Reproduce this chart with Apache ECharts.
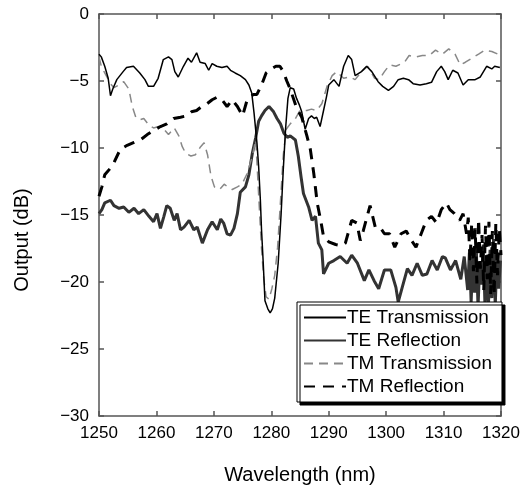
<!DOCTYPE html>
<html>
<head>
<meta charset="utf-8">
<script src="https://cdn.jsdelivr.net/npm/echarts@6/dist/echarts.min.js"></script>
<style>
html,body{margin:0;padding:0;background:#fff;}
#chart{width:523px;height:488px;}
</style>
</head>
<body>
<div id="chart"></div>
<script>
// ---- data (wavelength in nm, output in dB) ----
var xTicks = [1250, 1260, 1270, 1280, 1290, 1300, 1310, 1320];
var yTicks = [-30, -25, -20, -15, -10, -5, 0];
var seriesNames = ['TE Transmission', 'TE Reflection', 'TM Transmission', 'TM Reflection'];

var teTransWl = [1250, 1250.4, 1251.0, 1251.6, 1252.0, 1252.4, 1253.1, 1254.2, 1254.8, 1256.0, 1257.1, 1258.0, 1258.6, 1259.5, 1260.3, 1261.2, 1262.1, 1262.7, 1263.2, 1263.8, 1264.7, 1265.5, 1266.1, 1267.0, 1267.6, 1268.5, 1269.1, 1269.7, 1270.5, 1271.4, 1272.3, 1272.9, 1273.7, 1274.6, 1275.5, 1276.1, 1276.6, 1277.0, 1277.5, 1277.8, 1278.1, 1278.3, 1278.6, 1278.9, 1279.4, 1279.8, 1280.2, 1280.6, 1281.2, 1281.7, 1282.1, 1282.5, 1282.9, 1283.3, 1283.9, 1284.4, 1284.9, 1285.3, 1285.9, 1286.5, 1287.0, 1287.5, 1287.9, 1288.5, 1289.1, 1289.6, 1290.0, 1290.9, 1291.8, 1292.6, 1293.4, 1294.0, 1294.6, 1295.7, 1296.6, 1297.5, 1298.6, 1299.4, 1300.4, 1301.3, 1302.1, 1303.0, 1303.9, 1304.7, 1305.9, 1307.0, 1307.9, 1308.8, 1309.6, 1310.2, 1310.8, 1311.6, 1312.5, 1313.4, 1314.3, 1315.5, 1316.4, 1317.5, 1318.4, 1318.9, 1319.8];
var teTransDb = [-3.0, -3.2, -3.9, -4.8, -6.1, -5.6, -4.9, -4.3, -4.0, -3.9, -4.4, -4.9, -5.4, -5.4, -4.8, -3.4, -3.2, -3.4, -4.3, -4.7, -3.9, -3.3, -3.6, -2.9, -3.6, -3.7, -4.2, -3.7, -3.9, -4.0, -3.9, -4.2, -4.4, -4.6, -4.9, -5.3, -5.9, -7.4, -9.6, -11.4, -13.9, -16.1, -18.6, -21.4, -22.0, -22.3, -22.0, -21.2, -18.6, -15.0, -11.5, -8.5, -6.3, -5.5, -5.6, -6.3, -6.8, -7.3, -8.6, -7.8, -7.6, -7.8, -7.7, -8.4, -7.2, -6.2, -5.3, -4.9, -5.4, -3.9, -3.1, -3.4, -4.6, -4.3, -3.9, -4.3, -5.05, -5.4, -5.7, -5.4, -4.9, -4.8, -4.9, -5.2, -5.3, -5.2, -5.1, -4.3, -3.9, -4.3, -4.9, -4.2, -4.4, -5.3, -4.9, -4.9, -4.7, -3.9, -4.1, -3.9, -4.0];

var teReflWl = [1250, 1250.5, 1251.0, 1252.0, 1252.6, 1253.5, 1254.3, 1255.2, 1256.1, 1256.9, 1257.8, 1258.7, 1259.5, 1260.1, 1260.7, 1261.3, 1261.8, 1262.4, 1263.1, 1263.6, 1264.2, 1264.8, 1265.7, 1266.5, 1267.1, 1268.0, 1268.9, 1269.7, 1270.6, 1271.2, 1271.7, 1272.3, 1272.9, 1273.5, 1274.1, 1274.6, 1275.5, 1276.1, 1276.7, 1277.3, 1277.8, 1278.3, 1278.9, 1279.6, 1280.4, 1281.0, 1281.6, 1282.2, 1282.8, 1283.3, 1284.2, 1284.7, 1285.2, 1285.6, 1286.5, 1287.1, 1287.7, 1288.2, 1288.8, 1289.1, 1290.0, 1290.9, 1292.0, 1293.2, 1294.0, 1295.0, 1296.2, 1297.0, 1297.9, 1298.7, 1299.7, 1300.8, 1301.7, 1302.1, 1302.8, 1303.7, 1304.5, 1305.4, 1306.3, 1307.1, 1308.0, 1308.9, 1309.8, 1310.3, 1311.2, 1312.1, 1313.0, 1313.6, 1314.2, 1314.5, 1314.8, 1315.1, 1315.4, 1315.7, 1316.0, 1316.3, 1316.6, 1316.9, 1317.2, 1317.5, 1317.8, 1318.1, 1318.4, 1318.7, 1319.0, 1319.3, 1319.6, 1319.9];
var teReflDb = [-14.9, -14.6, -14.1, -13.9, -14.3, -14.5, -14.4, -14.8, -14.5, -14.9, -14.6, -15.1, -15.5, -14.9, -16.0, -15.1, -14.3, -14.5, -15.4, -14.9, -16.1, -15.9, -15.4, -16.1, -15.9, -17.1, -16.1, -15.5, -16.1, -15.3, -15.6, -16.4, -16.5, -16.0, -14.9, -13.3, -12.9, -12.0, -10.4, -9.2, -8.0, -7.6, -7.2, -6.9, -7.3, -7.8, -8.2, -8.9, -9.2, -9.1, -9.4, -10.6, -12.2, -13.4, -14.4, -15.4, -15.1, -17.1, -17.6, -19.4, -18.6, -18.4, -18.1, -18.6, -18.0, -18.6, -19.9, -19.1, -19.9, -20.5, -19.1, -19.1, -20.4, -21.5, -20.4, -19.0, -19.5, -18.6, -19.5, -19.4, -18.4, -19.1, -18.1, -18.2, -19.1, -18.4, -19.8, -18.1, -20.6, -17.8, -21.5, -18.2, -20.8, -17.5, -21.9, -18.6, -20.2, -17.2, -21.6, -18.0, -22.0, -17.6, -21.2, -16.8, -21.8, -17.9, -20.5, -18.4];

var tmTransWl = [1250, 1250.4, 1251.0, 1252.0, 1252.6, 1253.5, 1254.3, 1255.2, 1255.8, 1256.4, 1257.0, 1257.8, 1258.7, 1259.5, 1260.4, 1261.3, 1262.1, 1263.1, 1263.9, 1264.5, 1265.1, 1266.0, 1266.8, 1267.7, 1268.3, 1268.9, 1269.5, 1270.1, 1271.0, 1271.8, 1272.4, 1273.2, 1274.1, 1274.9, 1275.8, 1276.7, 1277.3, 1277.8, 1278.3, 1278.7, 1279.1, 1279.6, 1280.1, 1280.6, 1281.1, 1281.6, 1282.1, 1282.6, 1283.3, 1284.2, 1285.0, 1286.2, 1287.0, 1287.9, 1288.8, 1289.7, 1290.6, 1291.4, 1292.6, 1293.7, 1294.6, 1295.7, 1296.8, 1298.0, 1298.8, 1299.7, 1300.6, 1301.7, 1303.2, 1304.0, 1305.2, 1306.3, 1307.5, 1308.6, 1309.8, 1310.9, 1312.0, 1312.9, 1313.8, 1314.9, 1316.1, 1317.2, 1318.4, 1319.5, 1320];
var tmTransDb = [-3.2, -3.9, -4.4, -5.2, -5.5, -5.3, -5.05, -5.6, -6.9, -7.7, -7.9, -7.8, -8.3, -8.5, -8.4, -8.6, -9.0, -8.5, -9.1, -9.9, -10.4, -10.6, -10.5, -9.9, -9.6, -10.5, -12.1, -12.9, -13.1, -12.7, -12.9, -13.1, -12.9, -12.7, -11.9, -10.6, -9.4, -13.5, -17.5, -19.8, -21.1, -21.3, -20.5, -19.5, -17.4, -14.0, -10.5, -8.6, -8.2, -7.8, -7.2, -7.2, -7.1, -7.2, -6.7, -5.4, -4.6, -4.3, -4.8, -4.7, -4.9, -4.3, -3.9, -4.8, -4.9, -4.3, -3.8, -3.9, -3.6, -3.1, -3.2, -3.1, -3.1, -2.7, -3.0, -2.6, -3.0, -3.8, -3.6, -3.3, -3.0, -2.7, -2.8, -3.0, -2.6];

var tmReflWl = [1250, 1250.5, 1251.0, 1252.0, 1252.6, 1253.7, 1254.9, 1256.0, 1257.2, 1258.4, 1259.5, 1260.7, 1261.8, 1263.0, 1264.2, 1265.3, 1266.1, 1267.0, 1267.9, 1268.8, 1269.7, 1270.6, 1271.4, 1272.3, 1273.2, 1274.1, 1275.0, 1275.8, 1276.9, 1277.5, 1278.3, 1279.1, 1280.0, 1280.8, 1281.5, 1282.1, 1282.7, 1283.3, 1284.4, 1285.3, 1286.2, 1286.8, 1287.4, 1288.0, 1288.6, 1289.1, 1290.0, 1291.2, 1292.3, 1292.9, 1294.0, 1294.9, 1295.5, 1296.0, 1297.2, 1298.1, 1298.9, 1299.7, 1300.6, 1301.5, 1302.6, 1303.5, 1304.4, 1305.2, 1306.1, 1307.0, 1307.9, 1308.8, 1309.6, 1310.5, 1311.1, 1311.9, 1312.8, 1313.4, 1314.0, 1314.3, 1314.6, 1314.9, 1315.2, 1315.5, 1315.8, 1316.1, 1316.4, 1316.7, 1317.0, 1317.3, 1317.6, 1317.9, 1318.2, 1318.5, 1318.8, 1319.1, 1319.4, 1319.7, 1320];
var tmReflDb = [-13.6, -12.9, -12.0, -11.5, -11.1, -10.1, -9.8, -9.6, -9.4, -9.0, -8.7, -8.4, -8.2, -7.8, -7.7, -7.6, -7.3, -7.2, -6.9, -6.7, -6.4, -6.2, -6.4, -6.9, -6.4, -6.9, -7.6, -6.4, -6.0, -6.0, -5.3, -4.4, -4.1, -3.9, -3.9, -4.3, -5.0, -5.6, -7.0, -7.7, -9.1, -10.1, -11.9, -14.1, -15.4, -16.6, -17.0, -17.2, -17.3, -17.1, -15.4, -15.6, -16.9, -16.2, -14.3, -15.9, -15.9, -16.4, -16.4, -17.4, -16.4, -16.2, -16.9, -17.4, -16.4, -15.4, -15.1, -15.6, -14.6, -14.1, -14.6, -14.9, -15.4, -14.9, -16.4, -15.2, -18.5, -15.6, -19.2, -16.0, -20.1, -15.3, -19.0, -16.5, -20.6, -15.8, -19.8, -15.5, -20.9, -16.2, -21.0, -15.6, -19.5, -16.0, -18.0];

function pairs(xs, ys) {
  var out = [];
  for (var i = 0; i < xs.length; i++) out.push([xs[i], ys[i]]);
  return out;
}

var chart = echarts.init(document.getElementById('chart'), null, {renderer: 'canvas'});
var FONT = 'Liberation Sans, Arial, Helvetica, sans-serif';
var axisColor = '#555';

function xAxisDef(pos, showLabels) {
  return {
    type: 'value', position: pos, min: xTicks[0], max: xTicks[xTicks.length - 1], interval: 10,
    axisLine: {show: true, onZero: false, lineStyle: {color: axisColor, width: 1.5}},
    axisTick: {show: true, inside: true, length: 5, lineStyle: {color: axisColor, width: 1.5}},
    axisLabel: {show: showLabels, color: '#000', fontFamily: FONT, fontSize: 17, margin: 9,
      formatter: function (v) { return String(v); }},
    splitLine: {show: false}
  };
}
function yAxisDef(pos, showLabels) {
  return {
    type: 'value', position: pos, min: yTicks[0], max: yTicks[yTicks.length - 1], interval: 5,
    axisLine: {show: true, onZero: false, lineStyle: {color: axisColor, width: 1.5}},
    axisTick: {show: true, inside: true, length: 5, lineStyle: {color: axisColor, width: 1.5}},
    axisLabel: {show: showLabels, color: '#000', fontFamily: FONT, fontSize: 17, margin: 10,
      formatter: function (v) { return v < 0 ? '\u2212' + Math.abs(v) : String(v); }},
    splitLine: {show: false}
  };
}

var option = {
  backgroundColor: '#fff',
  animation: false,
  grid: {left: 99, right: 22, top: 14, bottom: 72, containLabel: false},
  xAxis: [xAxisDef('bottom', true), xAxisDef('top', false)],
  yAxis: [yAxisDef('left', true), yAxisDef('right', false)],
  legend: {
    orient: 'vertical', left: 297, top: 302,
    data: seriesNames,
    itemWidth: 42, itemHeight: 10, itemGap: 4,
    padding: [6, 10, 6, 6],
    backgroundColor: '#fff', borderColor: '#000', borderWidth: 1,
    shadowColor: '#000', shadowBlur: 0, shadowOffsetX: 3, shadowOffsetY: 3,
    itemStyle: {opacity: 0},
    textStyle: {fontFamily: FONT, fontSize: 19, color: '#000', padding: [0, 0, 0, -4], lineHeight: 18},
    selectedMode: false
  },
  graphic: [
    {type: 'text', x: 300, y: 475, style: {text: 'Wavelength (nm)', font: '20px ' + FONT, fill: '#000', textAlign: 'center', textVerticalAlign: 'middle'}},
    {type: 'text', x: 22, y: 240, rotation: Math.PI / 2, style: {text: 'Output (dB)', font: '20px ' + FONT, fill: '#000', textAlign: 'center', textVerticalAlign: 'middle'}}
  ],
  series: [
    {name: seriesNames[0], type: 'line', data: pairs(teTransWl, teTransDb), showSymbol: false, symbol: 'none', z: 4,
      lineStyle: {color: '#000', width: 1.5}, itemStyle: {color: '#000'}},
    {name: seriesNames[1], type: 'line', data: pairs(teReflWl, teReflDb), showSymbol: false, symbol: 'none', z: 2,
      lineStyle: {color: '#333', width: 3}, itemStyle: {color: '#333'}},
    {name: seriesNames[2], type: 'line', data: pairs(tmTransWl, tmTransDb), showSymbol: false, symbol: 'none', z: 3,
      lineStyle: {color: '#888', width: 1.5, type: [9, 6]}, itemStyle: {color: '#888'}},
    {name: seriesNames[3], type: 'line', data: pairs(tmReflWl, tmReflDb), showSymbol: false, symbol: 'none', z: 3,
      lineStyle: {color: '#000', width: 3, type: [11, 8]}, itemStyle: {color: '#000'}}
  ]
};
chart.setOption(option);
</script>
</body>
</html>
